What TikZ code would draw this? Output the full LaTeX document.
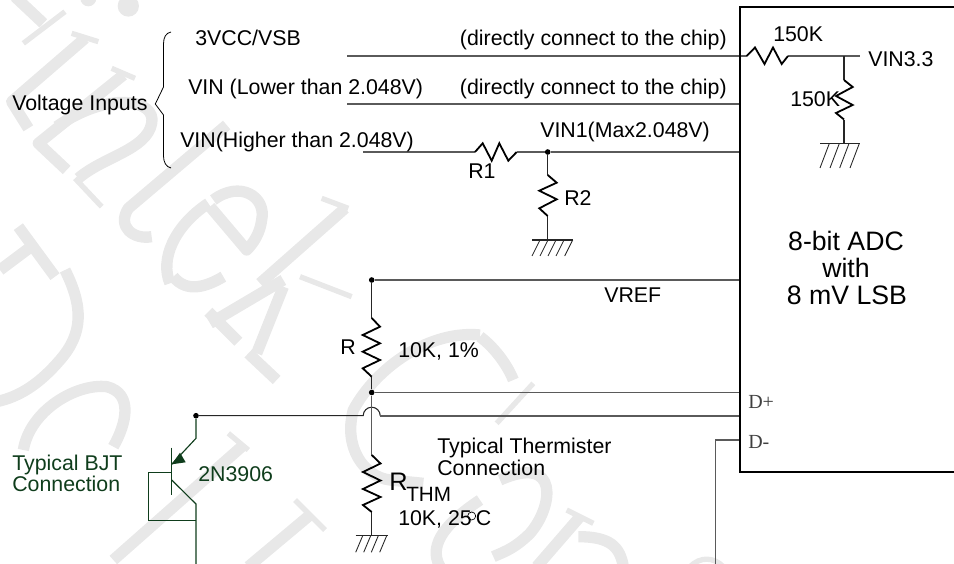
\documentclass[tikz,border=0pt]{standalone}
\usepackage{fontspec}
\setmainfont{Liberation Sans}
\newfontfamily\serifpin{Liberation Serif}
\definecolor{wm}{HTML}{E8E8E8}
\definecolor{bjt}{HTML}{0F3D1C}
\definecolor{wire}{HTML}{5A5A5A}
\tikzset{
 wmark/.style={draw=wm,line width=8.5pt,line cap=butt,line join=round},
 wmthin/.style={draw=wm,line width=4pt,line cap=butt,line join=round},
 wirel/.style={draw=wire,line width=1.3pt},
 thin wire/.style={draw=black!85,line width=0.8pt},
 zig/.style={draw=black,line width=1.35pt,line join=miter},
 gnd/.style={draw=black!85,line width=0.65pt},
 lab/.style={inner sep=0pt,anchor=base west,font=\fontsize{16}{18}\selectfont},
 labr/.style={lab,anchor=base east},
 big/.style={inner sep=0pt,anchor=base,font=\fontsize{20}{22}\selectfont},
 pin/.style={inner sep=0pt,anchor=base west,text=black!75,font=\fontsize{15}{18}\serifpin},
 bjtl/.style={lab,text=bjt},
 bjtw/.style={draw=bjt,line width=0.85pt},
 jdot/.style={circle,fill=black,inner sep=0pt,minimum size=4.2pt},
}
\begin{document}
\begin{tikzpicture}[x=0.75pt,y=-0.75pt]
\useasboundingbox (0,0) rectangle (954,564);
% ---- watermark ----
\begin{scope}[x=0.25pt,y=-0.25pt]
 \draw[wmark] (45,-10)--(130,70);
 \draw[wmthin] (70,130)--(195,35);
 \fill[wm] (385,18) circle (8pt) (265,-5) circle (6pt);
 \draw[wmark] (255,115)--(35,305)--(85,385);
 \draw[wmthin] (215,100)--(295,125);
 \draw[wmthin] (335,205)--(405,235);
 \draw[wmark] (370,225)--(115,430)--(200,510);
 \draw[wmthin] (225,535)--(305,620);
 \draw[wmark] (170,380) .. controls (330,270) and (470,300) .. (455,370) .. controls (440,450) and (310,470) .. (235,535);
 \draw[wmark] (680,375)--(385,625) .. controls (350,680) and (400,720) .. (455,710);
 \draw[wmark] (640,600) .. controls (720,540) and (800,590) .. (785,660) .. controls (780,700) and (760,730) .. (740,750)--(630,620);
 \draw[wmark] (625,610) .. controls (520,680) and (480,780) .. (510,850);
 \draw[wmark] (1035,625)--(780,850);
 \draw[wmthin] (965,595)--(1045,625);
 \draw[wmark] (55,680)--(165,830);
 \draw[wmark] (0,810)--(100,735);
 % lower-left quadrant, row offset 840
 \begin{scope}[shift={(0,840)}]
 \draw[wmark] (195,-30) .. controls (250,80) and (250,160) .. (180,240) .. controls (120,310) and (60,350) .. (-10,365);
 \draw[wmark] (70,510) .. controls (90,390) and (230,310) .. (320,320) .. controls (400,340) and (380,430) .. (340,500);
 \draw[wmark] (520,-10) .. controls (560,40) and (620,20) .. (670,-10);
 \draw[wmark] (850,20)--(770,220);
 \draw[wmark] (625,95)--(715,185);
 \draw[wmark] (745,220)--(830,300);
 \draw[wmthin] (900,-10)--(1055,50);
 \draw[wmark] (630,130)--(850,0);
 \draw[wmark] (725,500)--(340,840);
 \draw[wmthin] (685,460)--(745,510);
 \draw[wmthin] (885,660)--(975,750);
 \draw[wmark] (930,705)--(745,860);
 \draw[wmark] (1440,165) .. controls (1290,150) and (1130,260) .. (1060,390) .. controls (1030,500) and (1090,590) .. (1170,600) -- (1270,610);
 \draw[wmark] (1440,660) .. controls (1350,720) and (1280,790) .. (1320,860);
 \draw[wmark] (1440,170) .. controls (1480,200) and (1520,250) .. (1540,300);
 \draw[wmthin] (1600,310)--(1490,430);
 \draw[wmark] (1500,600) .. controls (1680,520) and (1660,680) .. (1590,760) .. controls (1540,810) and (1500,820) .. (1480,830);
 \draw[wmthin] (1700,690)--(1780,730);
 \draw[wmark] (1740,710)--(1610,860);
 \draw[wmark] (1735,770) .. controls (1830,770) and (1860,800) .. (1870,860);
 \draw[wmthin] (2070,860) .. controls (2100,830) and (2140,830) .. (2170,860);
 \end{scope}
\end{scope}
% ---- named points ----
\coordinate (p3a) at (347,56);
\coordinate (chip3) at (746.7,56);
\coordinate (r3e) at (788,56);
\coordinate (vin33j) at (844,56);
\coordinate (vin33) at (860,56);
\coordinate (r4t) at (844,80);
\coordinate (r4b) at (844,119.5);
\coordinate (g4) at (844,143.5);
\coordinate (p2a) at (347,104);
\coordinate (chip2) at (740,104);
\coordinate (p1a) at (363,152);
\coordinate (r1s) at (475,152);
\coordinate (r1e) at (516.7,152);
\coordinate (chip1) at (740,152);
\coordinate (r2t) at (547.7,175);
\coordinate (r2b) at (547.7,216);
\coordinate (g2) at (547.7,240);
\coordinate (vrefc) at (740,280);
\coordinate (rt) at (371.7,318);
\coordinate (rb) at (371.7,376.7);
\coordinate (dpc) at (740,392.5);
\coordinate (hopl) at (363.2,415.7);
\coordinate (hopr) at (380.2,415.7);
\coordinate (dmc) at (740,415.7);
\coordinate (tht) at (371.7,455);
\coordinate (thb) at (371.7,512);
\coordinate (g3) at (371.7,535.7);
\coordinate (dchip) at (740,440);
\coordinate (dcor) at (715.7,440);
\coordinate (dend) at (715.7,564);
\coordinate (ce) at (196,438.3);
\coordinate (tip) at (171.7,464.3);
\coordinate (bar1) at (171.7,447.7);
\coordinate (bar2) at (171.7,495);
\coordinate (bs) at (171.7,472.7);
\coordinate (bl) at (148.3,472.7);
\coordinate (bb) at (148.3,520.7);
\coordinate (bc) at (196,520.7);
\coordinate (cs) at (171.7,480);
\coordinate (cc) at (196,504);
\coordinate (cend) at (196,564);
\node[jdot] (j1) at (547.7,152) {};
\node[jdot] (j2) at (371.7,280) {};
\node[jdot] (j3) at (371.7,392.5) {};
\node[jdot] (j4) at (196,415.7) {};
% ---- wires ----
\draw[wirel] (p3a)--(chip3);
\draw[wirel] (p2a)--(chip2);
\draw[wirel,line width=1pt] (p1a)--(r1s);
\draw[wirel] (r1e)--(j1)--(chip1);
\draw[wirel] (r3e)--(vin33);
\draw[wirel] (j2)--(vrefc);
\draw[wirel] (j3)--(dpc);
\draw[thin wire] (j4)--(hopl) arc[start angle=180,end angle=360,radius=8.5];
\draw[wirel] (hopr) -- (dmc);
\draw[thin wire] (vin33j)--(r4t) (r4b)--(g4);
\draw[thin wire] (j1)--(r2t) (r2b)--(g2);
\draw[thin wire] (j2)--(rt) (rb)--(j3);
\draw[wirel,line width=1pt] (j3)--(tht);
\draw[thin wire] (thb)--(g3);
\draw[wirel,line width=1pt] (dchip)--(dcor)--(dend);
% ---- resistors ----
\draw[zig] (chip3)--(755,47.5)--(764.5,64)--(773,47.5)--(781.7,64)--(r3e);
\draw[zig] (r1s)--(482.7,143.3)--(491.7,160.7)--(499.3,143.3)--(508.3,160.7)--(r1e);
\draw[zig] (r4t)--(852.7,87)--(836,96)--(852.7,105)--(836,113)--(r4b);
\draw[zig] (r2t)--(556.7,182.7)--(539.3,190.7)--(556.7,199.3)--(539.3,208.3)--(r2b);
\draw[zig] (rt)--(380,326.7)--(362.7,335)--(380,343.3)--(362.7,351.7)--(380,360)--(362.7,368.3)--(rb);
\draw[zig] (tht)--(380.5,463.5)--(363,472)--(380.5,480.5)--(363,489)--(380.5,497)--(363,505)--(thb);
% ---- grounds ----
\draw[gnd,line width=0.8pt] (820,143.5)--(860,143.5);
\draw[gnd] (829.3,143.5)--++(-9.3,24.5) (839.3,143.5)--++(-9.3,24.5) (849,143.5)--++(-9.3,24.5) (859.3,143.5)--++(-9.3,24.5);
\draw[gnd,line width=0.8pt] (532,240)--(573,240);
\draw[gnd] (540,240)--++(-8,16) (548,240)--++(-8,16) (556,240)--++(-8,16) (564,240)--++(-8,16) (572.7,240)--++(-8,16);
\draw[gnd,line width=0.8pt] (355.7,535.7)--(387.7,535.7);
\draw[gnd] (362.7,535.7)--++(-7,16.6) (370.7,535.7)--++(-7,16.6) (378.3,535.7)--++(-7,16.6) (386.7,535.7)--++(-7,16.6);
% ---- chip ----
\draw[draw=black,line width=1.6pt] (954,7)--(740,7)--(740,472)--(954,472);
% ---- brace ----
\draw[draw=black,line width=0.6pt] (171,32) .. controls (166,33) and (163.5,37) .. (163.5,44) -- (163.5,87) -- (155.3,104) -- (163.5,115) -- (163.5,156) .. controls (163.5,162) and (166,167) .. (171,168);
% ---- BJT ----
\draw[bjtw] (j4)--(ce)--(tip);
\fill[bjt] (tip)--(180,452.7)--(185.7,462.3)--cycle;
\draw[bjtw] (bar1)--(bar2);
\draw[bjtw] (bs)--(bl)--(bb)--(bc);
\draw[bjtw] (cs)--(cc)--(cend);
% ---- labels ----
\node[lab] (tvi) at (12,110) {Voltage Inputs};
\node[lab] (t3v) at (195,45.7) {3VCC/VSB};
\node[lab] (tlo) at (188,94) {VIN (Lower than 2.048V)};
\node[lab] (thi) at (180,147) {VIN(Higher than 2.048V)};
\node[labr] (td1) at (727,45.5) {(directly connect to the chip)};
\node[labr] (td2) at (727,94) {(directly connect to the chip)};
\node[lab] (tv1) at (540,137.5) {VIN1(Max2.048V)};
\node[lab] (t150a) at (773,41.7) {150K};
\node[lab] (tv33) at (868,66.7) {VIN3.3};
\node[lab] (t150b) at (790,106) {150K};
\node[lab] (tr1) at (468,178) {R1};
\node[lab] (tr2) at (564,205.7) {R2};
\node[big] (a1) at (846,250.7) {8-bit ADC};
\node[big] (a2) at (846,277.5) {with};
\node[big] (a3) at (847,304.3) {8 mV LSB};
\node[lab] (tvr) at (604,302.7) {VREF};
\node[lab] (tr) at (340,354) {R};
\node[lab] (t10k) at (398,357) {10K, 1\%};
\node[pin] (dp) at (748,408) {D+};
\node[pin] (dm) at (748,448) {D-};
\node[lab] (tt1) at (437,453) {Typical Thermister};
\node[lab] (tt2) at (437,475.7) {Connection};
\node[lab,font=\fontsize{19}{22}\selectfont] (trt) at (389,490) {R};
\node[lab,font=\fontsize{15.5}{18}\selectfont] (tthm) at (406,501.7) {THM};
\node[lab] (t25) at (398,525.7) {10K, 25};
\node[draw=black,circle,line width=0.5pt,minimum size=6pt,inner sep=0pt] (deg) at (471.7,516) {};
\node[lab] (tc) at (475.5,525.7) {C};
\node[bjtl] (tb1) at (12,470) {Typical BJT};
\node[bjtl] (tb2) at (12,491.7) {Connection};
\node[bjtl] (tb3) at (198,481.7) {2N3906};
\end{tikzpicture}
\end{document}
